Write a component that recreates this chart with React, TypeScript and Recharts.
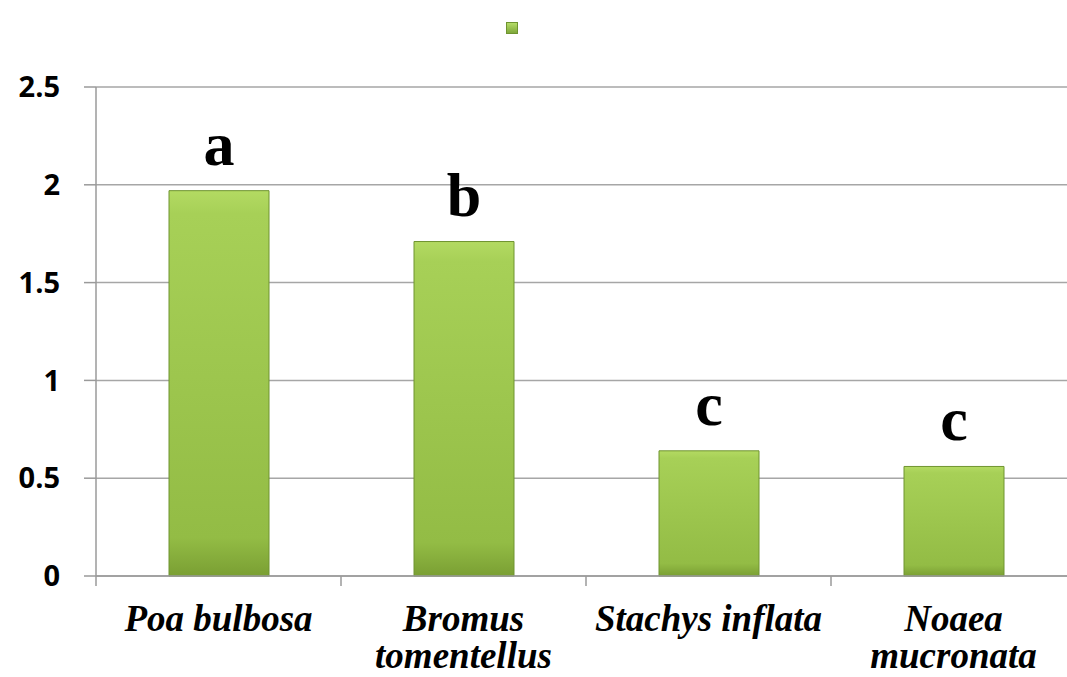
import React from "react";
import {
  BarChart,
  Bar,
  XAxis,
  YAxis,
  CartesianGrid,
  Legend,
  LabelList,
} from "recharts";

const species = ["Poa bulbosa", "Bromus\ntomentellus", "Stachys inflata", "Noaea\nmucronata"];
const values = [1.97, 1.71, 0.64, 0.56];
const letters = ["a", "b", "c", "c"];
const yTicks = [0, 0.5, 1, 1.5, 2, 2.5];

const data = species.map((name, i) => ({ name, value: values[i], letter: letters[i] }));

const CHART_W = 1067;
const PLOT_LEFT = 96;
const OVERHANG = 9; // the last category runs past the right edge in the original
const HALF_BAND = (CHART_W - PLOT_LEFT + OVERHANG) / species.length / 2;

function SpeciesTick(props: any) {
  const { x, y, payload } = props;
  const lines = String(payload.value).split("\n");
  return (
    <g>
      <line x1={x - HALF_BAND} x2={x - HALF_BAND} y1={y - 8} y2={y + 2} stroke="#9a9a9a" strokeWidth={1.5} />
      <text
        x={x}
        y={y + 47}
        textAnchor="middle"
        fontFamily="'Liberation Serif', 'Times New Roman', serif"
        fontWeight="bold"
        fontStyle="italic"
        fontSize={37}
        fill="#000"
      >
        {lines.map((l, i) => (
          <tspan key={i} x={x} dy={i === 0 ? 0 : 37}>
            {l}
          </tspan>
        ))}
      </text>
    </g>
  );
}

function LegendMarker() {
  return (
    <div style={{ display: "flex", justifyContent: "center" }}>
      <div
        style={{
          width: 12,
          height: 12,
          background: "linear-gradient(#b5dc68, #7fa83a)",
          border: "1px solid #6f9430",
          boxSizing: "border-box",
        }}
      />
    </div>
  );
}

export default function App() {
  return (
    <div style={{ position: "absolute", left: 0, top: 0, width: CHART_W, height: 677, background: "#fff" }}>
      <BarChart
        width={CHART_W}
        height={677}
        data={data}
        margin={{ top: 75, right: 0, left: 0, bottom: 0 }}
        barSize={100}
      >
        <defs>
          <linearGradient id="barFill" x1="0" y1="0" x2="0" y2="1">
            <stop offset="0%" stopColor="#b3da62" />
            <stop offset="6%" stopColor="#a7d057" />
            <stop offset="90%" stopColor="#93bc45" />
            <stop offset="100%" stopColor="#7a9f33" />
          </linearGradient>
        </defs>
        <Legend
          verticalAlign="top"
          content={() => <LegendMarker />}
          wrapperStyle={{ top: 22, left: 0, width: 1024 }}
        />
        <CartesianGrid vertical={false} stroke="#a6a6a6" strokeWidth={1.5} />
        <XAxis
          dataKey="name"
          interval={0}
          height={101}
          padding={{ left: 0, right: -OVERHANG }}
          tickLine={false}
          axisLine={{ stroke: "#9a9a9a", strokeWidth: 1.5 }}
          tick={<SpeciesTick />}
        />
        <YAxis
          width={PLOT_LEFT}
          domain={[0, 2.5]}
          ticks={yTicks}
          interval={0}
          tickSize={12}
          tickMargin={24}
          axisLine={{ stroke: "#9a9a9a", strokeWidth: 1.5 }}
          tickLine={{ stroke: "#9a9a9a", strokeWidth: 1.5 }}
          tick={{
            fill: "#000",
            fontSize: 29,
            fontWeight: "bold",
            fontFamily: "'Open Sans', sans-serif",
          }}
        />
        <Bar dataKey="value" fill="url(#barFill)" stroke="#6f9430" strokeWidth={1} isAnimationActive={false}>
          <LabelList
            dataKey="letter"
            position="top"
            offset={26}
            fill="#000"
            fontSize={62}
            fontWeight="bold"
            fontFamily="'Liberation Serif', 'Times New Roman', serif"
          />
        </Bar>
      </BarChart>
    </div>
  );
}
